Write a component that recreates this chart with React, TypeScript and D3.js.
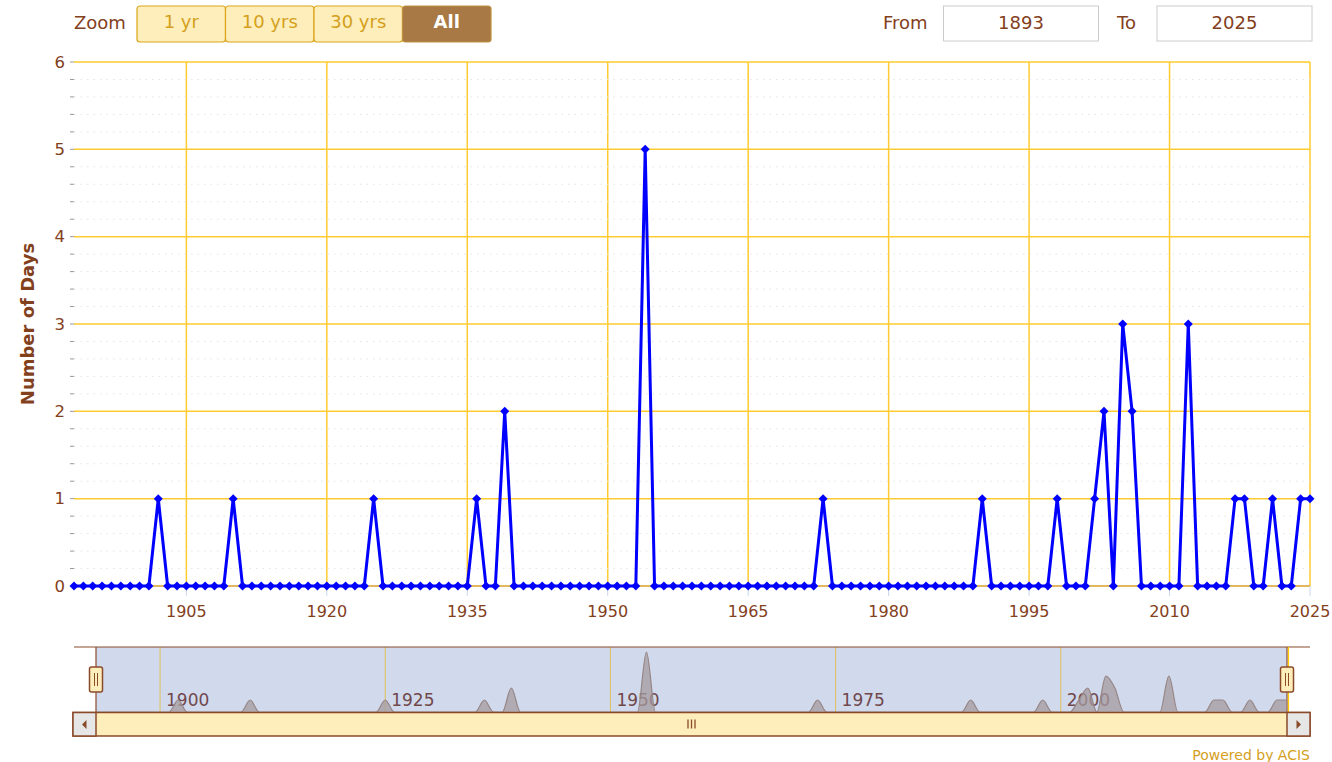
import * as d3 from 'd3';

// Annual count of days, 1893 - 2025
const firstYear = 1893;
const lastYear = 2025;
const daysPerYear = [
  0, 0, 0, 0, 0, 0, 0, 0, 0, 1, // 1893-1902
  0, 0, 0, 0, 0, 0, 0, 1, 0, 0, // 1903-1912
  0, 0, 0, 0, 0, 0, 0, 0, 0, 0, // 1913-1922
  0, 0, 1, 0, 0, 0, 0, 0, 0, 0, // 1923-1932
  0, 0, 0, 1, 0, 0, 2, 0, 0, 0, // 1933-1942
  0, 0, 0, 0, 0, 0, 0, 0, 0, 0, // 1943-1952
  0, 5, 0, 0, 0, 0, 0, 0, 0, 0, // 1953-1962
  0, 0, 0, 0, 0, 0, 0, 0, 0, 0, // 1963-1972
  1, 0, 0, 0, 0, 0, 0, 0, 0, 0, // 1973-1982
  0, 0, 0, 0, 0, 0, 0, 1, 0, 0, // 1983-1992
  0, 0, 0, 0, 0, 1, 0, 0, 0, 1, // 1993-2002
  2, 0, 3, 2, 0, 0, 0, 0, 0, 3, // 2003-2012
  0, 0, 0, 0, 1, 1, 0, 0, 1, 0, // 2013-2022
  0, 1, 1, // 2023-2025
];
const years = d3.range(firstYear, lastYear + 1);

const yTicks = [0, 1, 2, 3, 4, 5, 6];
const xTickYears = [1905, 1920, 1935, 1950, 1965, 1980, 1995, 2010, 2025];
const navTickYears = [1900, 1925, 1950, 1975, 2000];
const zoomButtons = ['1 yr', '10 yrs', '30 yrs', 'All'];

const FONT = '"DejaVu Sans", Verdana, sans-serif';
const BROWN = '#83401c';
const GOLD = '#ffcb30';
const BTN_FILL = '#fdeebb';
const BTN_STROKE = '#dba51a';
const BTN_TEXT = '#d4a01c';
const NAV_BORDER = '#8a4a2a';

export default function App() {
  const W = 1332;
  const H = 762;
  const plot = { left: 74, right: 1310, top: 62, bottom: 586 };

  const x = d3.scaleLinear().domain([firstYear, lastYear]).range([plot.left, plot.right]);
  const y = d3.scaleLinear().domain([0, 6]).range([plot.bottom, plot.top]);

  const minorTicks = d3.range(0, 6.001, 0.2).filter((v) => Math.abs(v - Math.round(v)) > 0.01);

  const data = years.map((yr, i) => ({ year: yr, value: daysPerYear[i] }));

  const line = d3
    .line<{ year: number; value: number }>()
    .x((d) => x(d.year))
    .y((d) => y(d.value));

  // navigator
  const nav = { left: 97, right: 1286, top: 647, bottom: 712 };
  const nx = d3.scaleLinear().domain([firstYear, lastYear]).range([nav.left, nav.right]);
  const ny = d3.scaleLinear().domain([0, d3.max(daysPerYear) as number]).range([nav.bottom, 652]);
  const navArea = d3
    .area<{ year: number; value: number }>()
    .x((d) => nx(d.year))
    .y0(nav.bottom)
    .y1((d) => ny(d.value))
    .curve(d3.curveMonotoneX);
  const navLine = d3
    .line<{ year: number; value: number }>()
    .x((d) => nx(d.year))
    .y((d) => ny(d.value))
    .curve(d3.curveMonotoneX);

  const btnX = [137, 225.5, 314, 402.5];
  const btnW = 88.5;

  const handle = (cx: number) => (
    <g>
      <rect x={cx - 6.5} y={667} width={13} height={25} rx={2} fill={BTN_FILL} stroke={NAV_BORDER} strokeWidth={1.5} />
      <line x1={cx - 1.5} x2={cx - 1.5} y1={673} y2={686} stroke={NAV_BORDER} strokeWidth={1} />
      <line x1={cx + 1.5} x2={cx + 1.5} y1={673} y2={686} stroke={NAV_BORDER} strokeWidth={1} />
    </g>
  );

  return (
    <svg
      width={W}
      height={H}
      style={{ position: 'absolute', left: 0, top: 0, fontFamily: FONT }}
    >
      <rect width={W} height={H} fill="#ffffff" />

      {/* range selector */}
      <text x={74} y={29} fontSize={18} fill={BROWN}>Zoom</text>
      {zoomButtons.map((b, i) => {
        const active = b === 'All';
        return (
          <g key={b}>
            <rect
              x={btnX[i]}
              y={6}
              width={btnW}
              height={36}
              rx={3}
              fill={active ? '#a87944' : BTN_FILL}
              stroke={active ? '#c08f3e' : BTN_STROKE}
              strokeWidth={1.2}
            />
            <text
              x={btnX[i] + btnW / 2}
              y={28}
              textAnchor="middle"
              fontSize={18}
              fontWeight={active ? 'bold' : 'normal'}
              fill={active ? '#ffffff' : BTN_TEXT}
            >
              {b}
            </text>
          </g>
        );
      })}

      <text x={883} y={28.5} fontSize={18} fill={BROWN}>From</text>
      <rect x={943.5} y={6} width={155} height={35} fill="#fff" stroke="#cccccc" />
      <text x={1021} y={28.5} fontSize={18} textAnchor="middle" fill={BROWN}>{firstYear}</text>
      <text x={1117} y={28.5} fontSize={18} fill={BROWN}>To</text>
      <rect x={1157} y={6} width={155} height={35} fill="#fff" stroke="#cccccc" />
      <text x={1234.5} y={28.5} fontSize={18} textAnchor="middle" fill={BROWN}>{lastYear}</text>

      {/* vertical grid */}
      {xTickYears.map((yr) => (
        <line key={'vg' + yr} x1={x(yr)} x2={x(yr)} y1={plot.top} y2={plot.bottom} stroke={GOLD} strokeWidth={1.5} />
      ))}
      {/* minor grid */}
      {minorTicks.map((v) => (
        <g key={'mg' + v}>
          <line x1={plot.left} x2={plot.right} y1={y(v)} y2={y(v)} stroke="#e4e4e4" strokeWidth={1} strokeDasharray="1.5,5" />
          <line x1={70} x2={74} y1={y(v)} y2={y(v)} stroke="#999999" strokeWidth={1} />
        </g>
      ))}
      {/* major grid */}
      {yTicks.map((v) => (
        <g key={'yg' + v}>
          <line x1={70} x2={74} y1={y(v)} y2={y(v)} stroke="#999999" strokeWidth={1} />
          {v > 0 && (
            <line x1={plot.left} x2={plot.right} y1={y(v)} y2={y(v)} stroke={GOLD} strokeWidth={1.5} />
          )}
          <text x={65} y={y(v) + 5.5} textAnchor="end" fontSize={16.5} fill={BROWN}>{v}</text>
        </g>
      ))}

      {/* x axis */}
      <line x1={plot.left} x2={plot.right} y1={plot.bottom} y2={plot.bottom} stroke="#d9a02a" strokeWidth={1.5} />
      {xTickYears.map((yr) => (
        <g key={'xt' + yr}>
          <line x1={x(yr)} x2={x(yr)} y1={plot.bottom} y2={plot.bottom + 10} stroke="#ccd6eb" strokeWidth={1} />
          <text x={x(yr)} y={617} textAnchor="middle" fontSize={16} fill={BROWN}>{yr}</text>
        </g>
      ))}

      <text
        transform={`translate(34, ${(plot.top + plot.bottom) / 2}) rotate(-90)`}
        textAnchor="middle"
        fontSize={18}
        fontWeight="bold"
        fill={BROWN}
      >
        Number of Days
      </text>

      {/* series */}
      <path d={line(data) as string} fill="none" stroke="#0000ff" strokeWidth={3} strokeLinejoin="round" />
      {data.map((d) => (
        <rect
          key={'m' + d.year}
          x={-3.2}
          y={-3.2}
          width={6.4}
          height={6.4}
          fill="#0000ff"
          transform={`translate(${x(d.year)},${y(d.value)}) rotate(45)`}
        />
      ))}

      {/* navigator */}
      <rect x={nav.left - 1} y={nav.top} width={nav.right - nav.left + 2} height={nav.bottom - nav.top} fill="#d1daed" />
      {navTickYears.map((yr) => (
        <g key={'nt' + yr}>
          <line x1={nx(yr)} x2={nx(yr)} y1={nav.top} y2={nav.bottom} stroke="#dfbf5a" strokeWidth={1} />
          <text x={nx(yr) + 6} y={706} fontSize={17} fill="#70484c">{yr}</text>
        </g>
      ))}
      <path d={navArea(data) as string} fill="#a49a9e" fillOpacity={0.75} />
      <path d={navLine(data) as string} fill="none" stroke="#968686" strokeWidth={1.2} />
      <line x1={plot.left} x2={plot.right} y1={nav.top} y2={nav.top} stroke={NAV_BORDER} strokeWidth={1.2} />
      <line x1={nav.left - 1} x2={nav.left - 1} y1={nav.top} y2={nav.bottom} stroke={NAV_BORDER} strokeWidth={1.2} />
      <line x1={nav.right + 1} x2={nav.right + 1} y1={nav.top} y2={nav.bottom} stroke={NAV_BORDER} strokeWidth={1.2} />
      <line x1={nav.right + 2.5} x2={nav.right + 2.5} y1={nav.top} y2={nav.bottom} stroke="#ffcc00" strokeWidth={1.2} />

      {/* scrollbar */}
      <rect x={73} y={712.5} width={1237} height={23.5} fill={BTN_FILL} stroke={NAV_BORDER} strokeWidth={1.5} />
      <rect x={73} y={712.5} width={23} height={23.5} fill="#e6e6e6" stroke={NAV_BORDER} strokeWidth={1.5} />
      <rect x={1287} y={712.5} width={23} height={23.5} fill="#e6e6e6" stroke={NAV_BORDER} strokeWidth={1.5} />
      <path d="M82,724.5 L86.5,720 L86.5,729 Z" fill={NAV_BORDER} />
      <path d="M1301,724.5 L1296.5,720 L1296.5,729 Z" fill={NAV_BORDER} />
      {[-3.5, 0, 3.5].map((dx) => (
        <line key={'r' + dx} x1={691.5 + dx} x2={691.5 + dx} y1={719.5} y2={728.5} stroke={NAV_BORDER} strokeWidth={1.3} />
      ))}
      {handle(96)}
      {handle(1287)}

      <text x={1310} y={760} textAnchor="end" fontSize={14} fill={BTN_TEXT}>Powered by ACIS</text>
    </svg>
  );
}
